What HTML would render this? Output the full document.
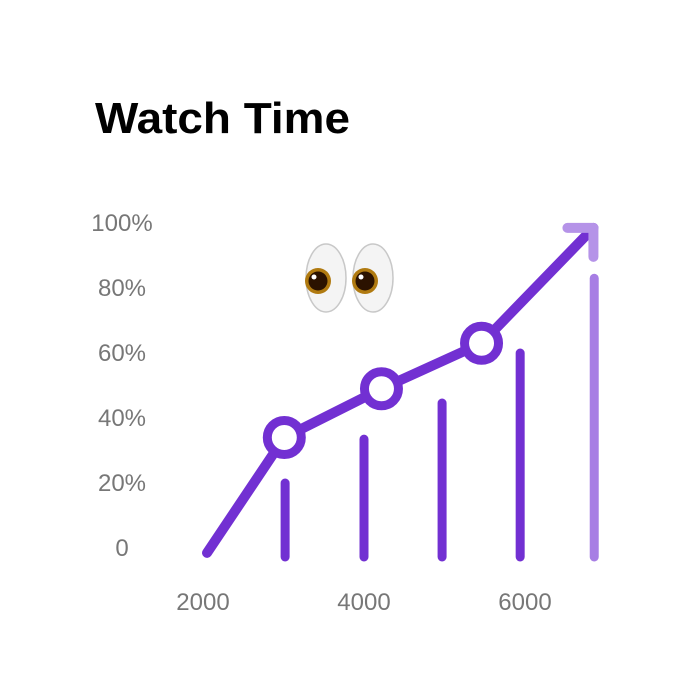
<!DOCTYPE html>
<html><head><meta charset="utf-8"><style>
html,body{margin:0;padding:0;background:#fff;}
svg{display:block;font-family:"Liberation Sans",sans-serif;}
</style></head><body>
<svg id="chart" width="700" height="700" viewBox="0 0 700 700">
<text x="95" y="133" font-size="44" font-weight="bold" fill="#000" textLength="255" lengthAdjust="spacingAndGlyphs">Watch Time</text>
<g>
<ellipse cx="326" cy="278" rx="20" ry="34" fill="#f4f4f4" stroke="#c8c8c8" stroke-width="1.5"/>
<ellipse cx="373" cy="278" rx="20" ry="34" fill="#f4f4f4" stroke="#c8c8c8" stroke-width="1.5"/>
<circle cx="318" cy="281" r="13" fill="#b07a10"/><circle cx="318" cy="281" r="9.5" fill="#2b1200"/><circle cx="314" cy="277" r="2.5" fill="#fff"/>
<circle cx="365" cy="281" r="13" fill="#b07a10"/><circle cx="365" cy="281" r="9.5" fill="#2b1200"/><circle cx="361" cy="277" r="2.5" fill="#fff"/>
</g>
<g id="yaxis"></g><g id="xaxis"></g><g id="bars"></g><g id="line"></g>
</svg>
<script>
const yTicks = [0, 20, 40, 60, 80, 100];
const yTickLabels = ["0", "20%", "40%", "60%", "80%", "100%"];
const xTicks = [2000, 4000, 6000];
const xTickLabels = ["2000", "4000", "6000"];
const barX = [3020, 4000, 4970, 5940, 6860];
const barValues = [20, 33.5, 44.6, 60, 83];
const lineX = [2050, 3010, 4217, 5460, 6850];
const lineY = [-1.5, 34, 49, 63, 98.5];
const markerIdx = [1, 2, 3];

const NS = "http://www.w3.org/2000/svg";
const xs = v => 203 + (v - 2000) * 0.0805;
const ys = v => 548 - v * 3.25;
function mk(tag, attrs, parent){const e=document.createElementNS(NS,tag);for(const k in attrs)e.setAttribute(k,attrs[k]);parent.appendChild(e);return e;}
const yG=document.getElementById('yaxis'), xG=document.getElementById('xaxis'), bG=document.getElementById('bars'), lG=document.getElementById('line');
yTicks.forEach((t,i)=>{
  const e=mk('text',{x:122,y:ys(t)+8,'text-anchor':'middle','font-size':24,fill:'#777'},yG);
  
  
  e.textContent=yTickLabels[i];
});
xTicks.forEach((t,i)=>{
  const e=mk('text',{x:xs(t),y:610,'text-anchor':'middle','font-size':24,fill:'#777'},xG);
  
  
  e.textContent=xTickLabels[i];
});
barX.forEach((x,i)=>{
  const last=i===barX.length-1;
  const e=mk('line',{x1:xs(x),x2:xs(x),y1:ys(barValues[i]),y2:557,stroke:last?'#a77ee4':'#7230d2','stroke-width':9,'stroke-linecap':'round'},bG);
  
  
});
const pts=lineX.map((x,i)=>xs(x)+','+ys(lineY[i])).join(' ');
const pl=mk('polyline',{points:pts,fill:'none',stroke:'#7230d2','stroke-width':10,'stroke-linecap':'round','stroke-linejoin':'round'},lG);


const ex=xs(lineX[lineX.length-1]), ey=ys(lineY[lineY.length-1]);
const ah=mk('polyline',{points:(ex-26)+','+ey+' '+ex+','+ey+' '+ex+','+(ey+29),fill:'none',stroke:'#b593e8','stroke-width':10,'stroke-linecap':'round','stroke-linejoin':'round'},lG);


markerIdx.forEach(i=>{
  const c=mk('circle',{cx:xs(lineX[i]),cy:ys(lineY[i]),r:17,fill:'#fff',stroke:'#7230d2','stroke-width':9},lG);
  
  
});
</script>
</body></html>
